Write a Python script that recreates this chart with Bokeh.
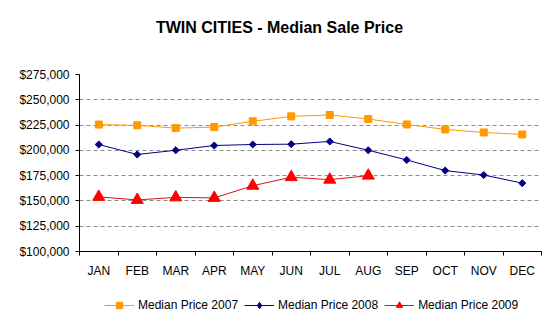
import math
from bokeh.plotting import figure
from bokeh.layouts import column
from bokeh.models import (Range1d, FixedTicker, NumeralTickFormatter, Legend,
                          LegendItem, Label)
from bokeh.embed import file_html
from bokeh.resources import INLINE

months = ["JAN", "FEB", "MAR", "APR", "MAY", "JUN",
          "JUL", "AUG", "SEP", "OCT", "NOV", "DEC"]
price_2007 = [225500, 224700, 222000, 223000, 228700, 233600,
              235000, 231000, 225600, 220700, 217700, 215700]
price_2008 = [205800, 195900, 200100, 204800, 205800, 206100,
              208800, 200100, 190500, 180000, 175600, 167600]
price_2009 = [154000, 151000, 153500, 153000, 165000, 173500,
              171000, 175000]
y_ticks = [100000, 125000, 150000, 175000, 200000, 225000, 250000, 275000]
series_names = ["Median Price 2007", "Median Price 2008", "Median Price 2009"]
chart_title = "TWIN CITIES - Median Sale Price"

FONT = "Liberation Sans"
W = 558
BORDER_L, BORDER_R = 79, 17
C07, C08, C09 = "#FF9900", "#000080", "#FF0000"
L09 = "#D01818"
NAN = float("nan")


def bare(height):
    """A strip with no axes; the column lines its frame up with the chart's,
    so the x range is set to read in page pixels."""
    f = figure(width=W, height=height, output_backend="svg",
               toolbar_location=None, x_axis_type=None, y_axis_type=None,
               x_range=Range1d(BORDER_L, W - BORDER_R),
               y_range=Range1d(0, height),
               min_border_left=BORDER_L, min_border_right=BORDER_R,
               min_border_top=0, min_border_bottom=0)
    f.outline_line_color = None
    f.border_fill_color = "white"
    f.background_fill_color = "white"
    return f


# ---- title strip ----
TITLE_H = 48
top = bare(TITLE_H)
top.add_layout(Label(x=279, y=TITLE_H - 27, text=chart_title,
                     text_align="center", text_baseline="middle",
                     text_font=FONT, text_font_size="16px",
                     text_font_style="bold", text_color="black"))

# ---- main chart ----
# each month sits in the middle of its own unit-wide slot
x_all = [i + 0.5 for i in range(len(months))]
x_2009 = x_all[:len(price_2009)]

p = figure(width=W, height=234, output_backend="svg", toolbar_location=None,
           x_range=Range1d(0, len(months)), y_range=Range1d(100000, 275000),
           min_border_left=BORDER_L, min_border_right=BORDER_R,
           min_border_top=26, min_border_bottom=31)
p.outline_line_color = None
p.background_fill_color = "white"
p.border_fill_color = "white"

# x axis: month names centred in slots, tick marks on slot boundaries
p.xaxis.ticker = FixedTicker(ticks=x_all,
                             minor_ticks=list(range(len(months) + 1)))
p.xaxis.major_label_overrides = {x: m for x, m in zip(x_all, months)}
p.xaxis.major_tick_out = 0
p.xaxis.major_tick_in = 0
p.xaxis.minor_tick_out = 4
p.xaxis.minor_tick_in = 0
p.xaxis.minor_tick_line_color = "black"
p.xaxis.major_label_standoff = 8
p.xaxis.axis_line_color = "black"
p.xaxis.major_label_text_font = FONT
p.xaxis.major_label_text_font_size = "12px"
p.xaxis.major_label_text_color = "black"

p.yaxis.ticker = FixedTicker(ticks=y_ticks)
p.yaxis.formatter = NumeralTickFormatter(format="$0,0")
p.yaxis.major_tick_out = 4
p.yaxis.major_tick_in = 0
p.yaxis.minor_tick_out = 0
p.yaxis.minor_tick_in = 0
p.yaxis.major_label_standoff = 6
p.yaxis.axis_line_color = "black"
p.yaxis.major_tick_line_color = "black"
p.yaxis.major_label_text_font = FONT
p.yaxis.major_label_text_font_size = "12px"
p.yaxis.major_label_text_color = "black"

p.xgrid.grid_line_color = None
p.ygrid.grid_line_color = "#8c8c8c"
p.ygrid.grid_line_dash = "4 3"
p.ygrid.grid_line_width = 1

p.line(x_all, price_2007, line_color=C07, line_width=1)
p.scatter(x_all, price_2007, marker="square", size=7,
          fill_color=C07, line_color=C07)
p.line(x_all, price_2008, line_color=C08, line_width=1)
p.scatter(x_all, price_2008, marker="square", angle=math.pi / 4,
          size=5, fill_color=C08, line_color=C08)
p.line(x_2009, price_2009, line_color=L09, line_width=1)
p.scatter(x_2009, price_2009, marker="triangle", size=12,
          fill_color=C09, line_color=C09)

# ---- legend strip: placeholder (NaN) glyphs styled like the series ----
LEG_H = 42
leg = bare(LEG_H)
s07 = [leg.line([NAN], [NAN], line_color=C07, line_width=1),
       leg.scatter([NAN], [NAN], marker="square",
                   fill_color=C07, line_color=C07)]
s08 = [leg.line([NAN], [NAN], line_color=C08, line_width=1),
       leg.scatter([NAN], [NAN], marker="diamond",
                   fill_color=C08, line_color=C08)]
s09 = [leg.line([NAN], [NAN], line_color=L09, line_width=1),
       leg.scatter([NAN], [NAN], marker="triangle",
                   fill_color=C09, line_color=C09)]
legend = Legend(items=[LegendItem(label=n, renderers=r)
                       for n, r in zip(series_names, [s07, s08, s09])],
                orientation="horizontal", location=(104 - BORDER_L, 11),
                border_line_color=None, background_fill_alpha=0,
                label_text_font=FONT, label_text_font_size="12px",
                label_text_color="black", glyph_width=30, glyph_height=16,
                spacing=6, label_standoff=4, padding=0, margin=0)
leg.add_layout(legend)

layout = column(top, p, leg, spacing=0)
open("out.html", "w").write(file_html(layout, INLINE))
